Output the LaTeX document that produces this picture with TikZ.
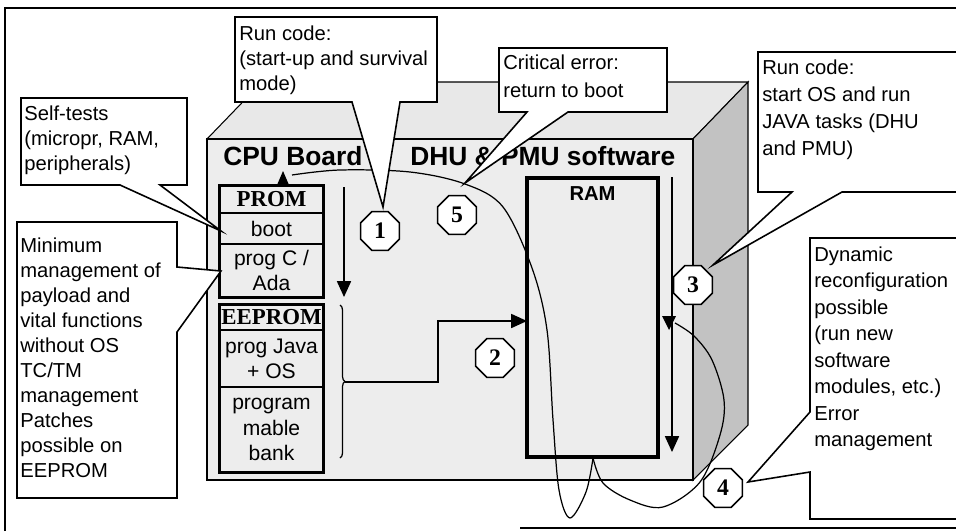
\documentclass[tikz,border=0pt]{standalone}
\usepackage{fontspec}
\setmainfont{Liberation Sans}
\newfontfamily\memserif{Liberation Serif}
\usepackage{tikz}
\usetikzlibrary{arrows.meta,shapes.geometric,decorations.pathreplacing}
\definecolor{frontgrey}{gray}{0.93}
\definecolor{topgrey}{gray}{0.91}
\definecolor{sidegrey}{gray}{0.76}
\tikzset{
  note/.style={anchor=north west,align=left,inner sep=0pt,font=\fontsize{11.5}{#1}\selectfont},
  note/.default=14.2,
  bubble/.style={draw,fill=white,line width=0.9pt},
  memcell/.style={draw,line width=0.6pt,minimum width=2.06cm,inner sep=0pt,align=center,font=\fontsize{12}{14.4}\selectfont},
  memhead/.style={memcell,font=\memserif\bfseries\fontsize{13}{14}\selectfont},
  memframe/.style={line width=1.8pt},
  stepno/.style={regular polygon,regular polygon sides=8,draw,fill=white,line width=0.9pt,minimum size=0.84cm,inner sep=0pt,font=\memserif\bfseries\fontsize{13.5}{13.5}\selectfont},
  flow/.style={line width=0.8pt,-{Triangle[length=9pt,width=8pt]}},
  loop/.style={line width=0.7pt},
  title/.style={anchor=base west,inner sep=0pt,font=\bfseries\fontsize{15}{18}\selectfont}
}

\begin{document}
\begin{tikzpicture}[x=0.02cm,y=-0.02cm]
\clip (0,0) rectangle (956,531);
% frame
\draw[line width=0.6pt] (5,531) -- (5,8) -- (960,8);
\draw[line width=0.6pt] (520,528) -- (960,528);
% board box
\coordinate (F1) at (207,139); \coordinate (F2) at (693,139); \coordinate (F3) at (693,480); \coordinate (F4) at (207,480);
\coordinate (B1) at (262,82); \coordinate (B2) at (748,82); \coordinate (B3) at (748,425);
\draw[fill=topgrey,line width=0.6pt] (F1)--(B1)--(B2)--(F2)--cycle;
\draw[fill=sidegrey,line width=0.6pt] (F2)--(B2)--(B3)--(F3)--cycle;
\draw[fill=frontgrey,line width=0.6pt] (F1)--(F2)--(F3)--(F4)--cycle;
\node[title] (cpu) at (223,165) {CPU Board};
\node[title] (dhu) at (410,165) {DHU \& PMU software};
% memories
\node[memhead,minimum height=0.54cm] (prom) at (271.5,199.5) {PROM};
\node[memcell,minimum height=0.62cm] (boot) at (271.5,228.5) {boot};
\node[memcell,minimum height=1.06cm] (progc) at (271.5,270.5) {prog C /\\Ada};
\draw[memframe] (prom.north west) rectangle (progc.south east);
\node[memhead,minimum height=0.5cm] (eeprom) at (271.5,317.5) {EEPROM};
\node[memcell,minimum height=1.14cm] (progjava) at (271.5,358.5) {prog Java\\+ OS};
\node[memcell,minimum height=1.7cm] (bank) at (271.5,429.5) {program\\mable\\bank};
\draw[memframe] (eeprom.north west) rectangle (bank.south east);
\node[draw,line width=1.8pt,minimum width=2.62cm,minimum height=5.58cm] (ram) at (592.5,317.5) {};
\node[anchor=north,inner sep=0pt,font=\bfseries\fontsize{11.5}{14}\selectfont] (ramlbl) at (592.5,186) {RAM};
% steps
\coordinate (s1top) at (344,187); \coordinate (s1bot) at (344,297);
\draw[flow] (s1top) -- (s1bot);
\draw[loop,decorate,decoration={brace,amplitude=0.1cm}] (340,305) -- (340,458);
\coordinate (bracetip) at (345,382); \coordinate (ramin) at (527,321);
\draw[flow] (bracetip) -- (438,382) |- (ramin);
\coordinate (s3top) at (672,177); \coordinate (s3bot) at (672,452);
\draw[flow] (s3top) -- (s3bot);
\coordinate (rambot) at (593,458);
\draw[loop] plot[smooth,tension=0.55] coordinates {(rambot) (586,492) (570,518) (559,490) (553,420) (547,330) (532,268) (503,207) (465,184) (410,172) (340,170) (292,175)};
\fill (283,171) -- (289,185) -- (277,185) -- cycle;
\draw[loop] plot[smooth,tension=0.55] coordinates {(rambot) (603,483) (630,500) (663,507) (700,482) (720,435) (724,400) (712,360) (694,336) (675,323)};
\fill (662,316) -- (676,316) -- (669,330) -- cycle;
% callouts
\draw[bubble] (21,98) -- (187,98) -- (187,185) -- (160,185) -- (221,231) -- (120,185) -- (21,185) -- cycle;
\node[note] (selftest) at (24,106) {Self-tests\\(micropr, RAM,\\peripherals)};
\draw[bubble] (17,222) -- (177,222) -- (177,267) -- (221,271) -- (177,332) -- (177,498) -- (17,498) -- cycle;
\node[note] (minimum) at (20,238) {Minimum\\management of\\payload and\\vital functions\\without OS\\TC/TM\\management\\Patches\\possible on\\EEPROM};
\draw[bubble] (235,17) -- (437,17) -- (437,102) -- (400,102) -- (383,207) -- (352,102) -- (235,102) -- cycle;
\node[note] (startup) at (239,26) {Run code:\\(start-up and survival\\mode)};
\draw[bubble] (499,48) -- (667,48) -- (667,112) -- (568,112) -- (465,183) -- (527,112) -- (499,112) -- cycle;
\node[note=15.9] (critical) at (503,55) {Critical error:\\return to boot};
\draw[bubble] (962,52) -- (758,52) -- (758,192) -- (792,192) -- (713,265) -- (842,192) -- (962,192) -- cycle;
\node[note=15.3] (runos) at (762,60) {Run code:\\start OS and run\\JAVA tasks (DHU\\and PMU)};
\draw[bubble] (962,238) -- (810,238) -- (810,412) -- (748,482) -- (810,472) -- (810,519) -- (962,519) -- cycle;
\node[note=15.1] (dynamic) at (814,246) {Dynamic\\reconfiguration\\possible\\(run new\\software\\modules, etc.)\\Error\\management};
% step numbers
\node[stepno] (n1) at (380,231) {1};
\node[stepno] (n2) at (495,358) {2};
\node[stepno] (n3) at (693,285) {3};
\node[stepno] (n4) at (723,488) {4};
\node[stepno] (n5) at (457,215) {5};
\end{tikzpicture}
\end{document}
